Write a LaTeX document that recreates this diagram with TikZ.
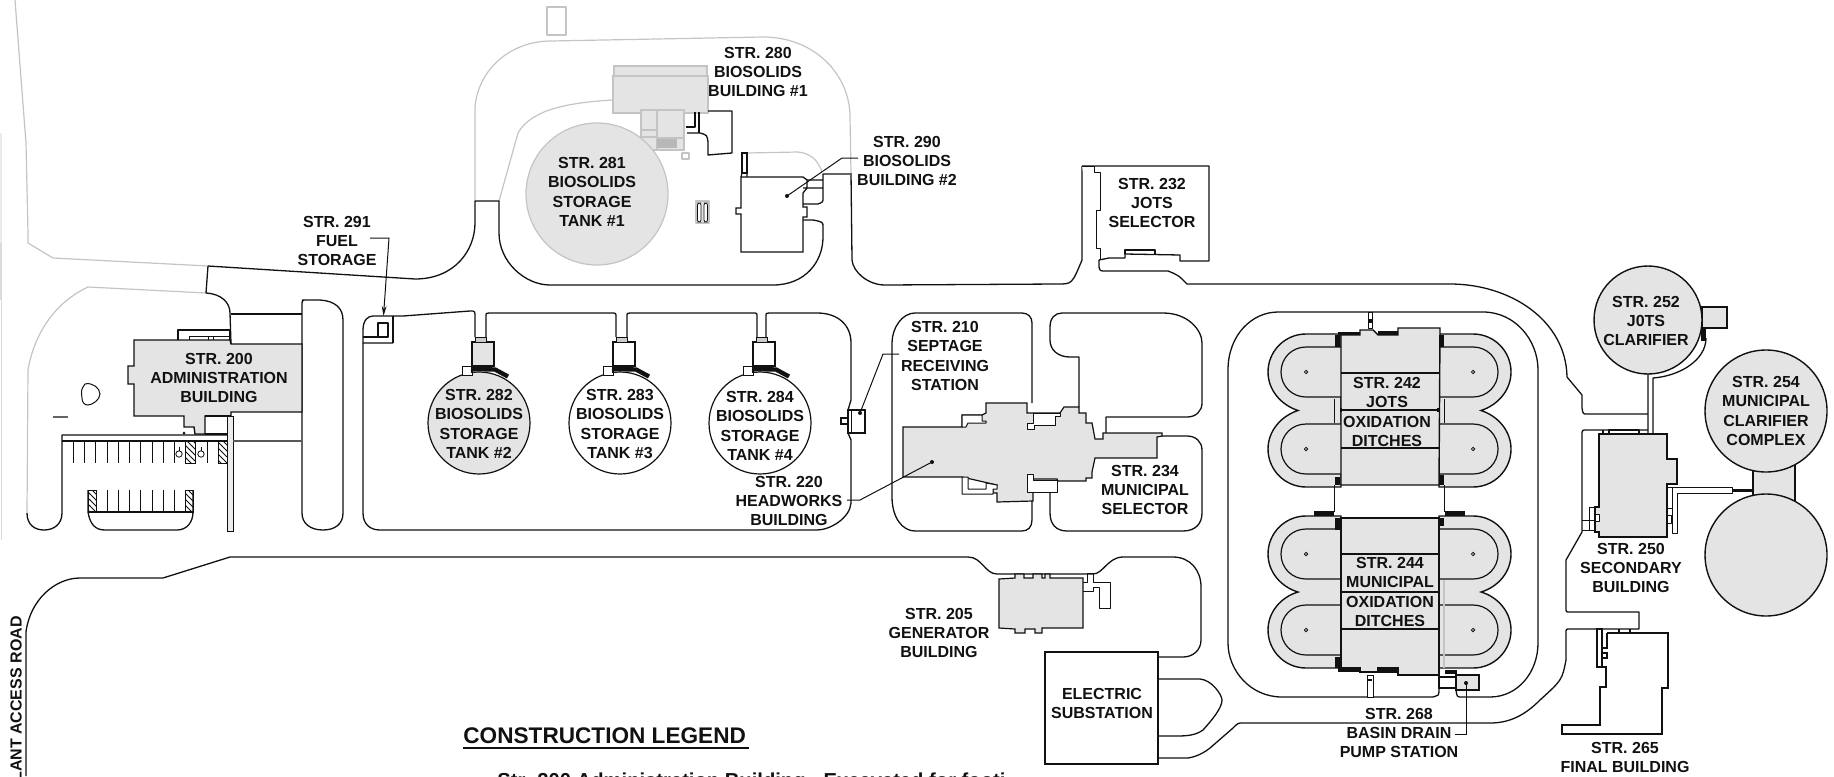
\documentclass[tikz,border=0pt]{standalone}
\usepackage{fontspec}
\setmainfont{Liberation Sans}
\usetikzlibrary{patterns,arrows.meta}
\definecolor{bld}{HTML}{E4E4E4}
\definecolor{pale}{HTML}{C4C4C4}
\definecolor{ink}{HTML}{111111}
\tikzset{
  road/.style={draw=ink,line width=0.65pt,line join=round},
  paleroad/.style={draw=pale,line width=0.6pt,line join=round},
  thin line/.style={draw=ink,line width=0.5pt},
  building/.style={draw=ink,line width=0.7pt,fill=bld,line join=miter},
  plainbuilding/.style={draw=ink,line width=0.7pt,fill=white},
  palebuilding/.style={draw=pale,line width=0.7pt,fill=bld},
  heavy/.style={fill=ink,draw=none},
  lbl/.style={font=\bfseries\fontsize{8}{9.65}\selectfont,align=center,inner sep=0pt,text=ink},
  leaderline/.style={draw=ink,line width=0.5pt},
  hatchbox/.style={draw=ink,line width=0.4pt,pattern=north west lines,pattern color=ink},
  leaderdot/.style={fill=ink,draw=none},
}
\newcommand{\lobeouter}[5]{% c, s, edge, y1, y2
  \path[building] (#3,{#4-38}) -- (#1,{#4-38})
   .. controls ({#1+#2*21},{#4-38}) and ({#1+#2*38},{#4-21}) .. ({#1+#2*38},#4)
   .. controls ({#1+#2*38},{#4+18}) and ({#1+#2*25},{#4+33}) .. ({#1+#2*8},{(#4+#5)/2})
   .. controls ({#1+#2*25},{#5-33}) and ({#1+#2*38},{#5-18}) .. ({#1+#2*38},#5)
   .. controls ({#1+#2*38},{#5+21}) and ({#1+#2*21},{#5+38}) .. (#1,{#5+38})
   -- (#3,{#5+38}) -- cycle;
  \foreach \yy in {#4,#5}{
   \path[building,line width=0.6pt] (#3,{\yy-25}) -- (#1,{\yy-25})
     .. controls ({#1+#2*14},{\yy-25}) and ({#1+#2*25},{\yy-14}) .. ({#1+#2*25},\yy)
     .. controls ({#1+#2*25},{\yy+14}) and ({#1+#2*14},{\yy+25}) .. (#1,{\yy+25})
     -- (#3,{\yy+25});
   \draw[ink,line width=0.4pt] (#1,\yy) circle[radius=1.7];
  }
}
\begin{document}
\begin{tikzpicture}[x=0.5pt,y=-0.5pt]
\useasboundingbox (0,0) rectangle (1834,776);
\clip (0,0) rectangle (1834,776);

% faint marks at the left edge
\fill[black!8] (0,133) rectangle (2,300);
\fill[black!14] (0,243) rectangle (2,300);
\draw[black!15,line width=0.4pt] (1,300) -- (1,540);

% ---------- pale roads ----------
\path[paleroad] (15,0) -- (26,143) -- (28,233) -- (28,243) -- (53,258) -- (208,266);
\path[paleroad] (206,293) -- (88,287) .. controls (50,305) and (33,340) .. (28,370) -- (27,513);
\path[paleroad] (475,201) -- (475,107) .. controls (478,70) and (510,41) .. (551,41) -- (763,37)
   .. controls (815,37) and (850,75) .. (850,117) -- (851,173);
\path[paleroad] (499,201) -- (518,133) .. controls (530,112) and (560,103) .. (613,100);
\path[paleroad] (747,153) -- (798,152) .. controls (810,153) and (818,160) .. (822,172);
\path[paleroad,fill=white] (547,7) rectangle (566,35);

% ---------- black roads ----------
\path[road] (208,266) -- (415,279) .. controls (455,279) and (475,250) .. (475,223) -- (475,201)
   -- (499,201) -- (499,233) .. controls (499,262) and (525,285) .. (550,285) -- (773,285)
   .. controls (805,285) and (823,262) .. (823,237) -- (823,227) .. controls (823,222) .. (813,220) -- (803,220);
\path[road] (851,173) -- (852,260) .. controls (853,272) and (868,285) .. (885,285) -- (1058,284)
   .. controls (1072,284) .. (1082,260) -- (1082,166);
\path[road] (1099,267) .. controls (1100,271) .. (1106,271) -- (1168,271) .. controls (1178,275) .. (1187,284)
   -- (1450,284) .. controls (1510,284) and (1566,320) .. (1567,377) -- (1582,395) -- (1582,408)
   .. controls (1583,414) .. (1587,414) -- (1648,414);
\path[road] (1648,430) -- (1587,430) .. controls (1582,430) .. (1582,435) -- (1582,532) -- (1566,560) -- (1566,608)
   .. controls (1566,612) .. (1570,612) -- (1639,612) -- (1639,629) -- (1570,629)
   .. controls (1566,629) .. (1566,633) -- (1566,660) .. controls (1562,680) .. (1540,700)
   .. controls (1525,715) and (1510,723) .. (1490,723) -- (1243,723) .. controls (1238,723) .. (1233,728)
   -- (1210,748) .. controls (1200,756) and (1190,758) .. (1187,758) -- (1158,758);
% plant entry road
\path[road] (26,776) -- (26,632) .. controls (30,600) and (55,578) .. (80,578) -- (163,578) -- (230,557) -- (968,557)
   .. controls (982,557) and (985,574) .. (997,574) -- (1093,574) .. controls (1103,574) and (1108,557) .. (1123,557)
   -- (1173,557) .. controls (1190,557) and (1201,570) .. (1201,587) -- (1201,640)
   .. controls (1201,650) and (1193,657) .. (1183,657) -- (1158,657);
\path[road] (1158,679) -- (1200,679) .. controls (1212,680) and (1222,695) .. (1222,700)
   .. controls (1222,708) and (1212,720) .. (1203,730) .. controls (1196,735) and (1188,736) .. (1177,736) -- (1158,736);
% administration drives
\path[road] (206,293) -- (208,266);
\path[road] (206,293) .. controls (222,294) and (230,303) .. (230,313) -- (231,344);
\draw[ink,line width=0.9pt] (231,314) -- (302,314);
\path[road] (27,513) .. controls (27,525) and (35,530) .. (44,530) .. controls (54,530) and (62,524) .. (62,513) -- (62,435) -- (230,435);
\draw[ink,line width=0.95pt] (62,441) -- (230,441);
\path[road] (302,300) -- (320,300) .. controls (335,301) and (343,308) .. (343,320) -- (343,513)
   .. controls (343,524) and (335,530) .. (323,530) .. controls (311,530) and (302,524) .. (302,513) -- (302,304) .. controls (302,301) .. (304,300);
% tanks island
\path[road] (393,343) -- (363,343) -- (363,330) .. controls (363,320) and (368,316) .. (373,316) -- (403,316) -- (470,311)
   .. controls (475,311) .. (475,317) -- (475,337);
\path[road] (486,337) -- (486,317) .. controls (486,313) .. (489,313) -- (611,313) .. controls (616,313) .. (616,317) -- (616,337);
\path[road] (627,337) -- (627,317) .. controls (627,313) .. (630,313) -- (753,313) .. controls (757,313) .. (757,317) -- (757,337);
\path[road] (766,337) -- (766,317) .. controls (766,313) .. (769,313) -- (817,313) .. controls (838,313) and (851,325) .. (851,343)
   -- (851,400) -- (848,410) -- (848,433) -- (851,440) -- (851,503) .. controls (850,518) and (830,530) .. (817,530)
   -- (380,530) .. controls (370,530) and (363,524) .. (363,513) -- (363,343);
\path[road] (393,316) -- (393,343);
\path[road,line width=0.6pt] (378,323) rectangle (388,337);
\path[road] (363,337) -- (388,337);
% septage island
\path[road] (1032,403) -- (1032,323) .. controls (1032,317) and (1028,313) .. (1022,313) -- (915,313)
   .. controls (902,313) and (892,328) .. (892,343) -- (892,497) .. controls (892,517) and (902,531) .. (915,531)
   -- (1022,531) .. controls (1028,531) and (1032,527) .. (1032,520) -- (1032,501);
\path[road] (1079,407) -- (1079,357) -- (1070,357) .. controls (1058,357) and (1050,350) .. (1050,340) -- (1050,327)
   .. controls (1050,318) and (1055,313) .. (1062,313) -- (1163,313) .. controls (1188,313) and (1202,330) .. (1202,343) -- (1202,403)
   .. controls (1202,411) and (1196,417) .. (1187,417) -- (1106,417) -- (1106,433);
\path[road] (1162,436) -- (1187,436) .. controls (1196,436) and (1202,442) .. (1202,450) -- (1202,513)
   .. controls (1202,524) and (1195,531) .. (1183,531) -- (1067,531) .. controls (1056,531) and (1050,524) .. (1050,513) -- (1050,492);
% ditch ring
\path[road] (1439,677) -- (1439,692) .. controls (1439,695) .. (1433,697) -- (1282,697) .. controls (1250,697) and (1228,670) .. (1228,643)
   -- (1228,370) .. controls (1228,335) and (1252,312) .. (1278,312) -- (1483,312) .. controls (1515,312) and (1538,340) .. (1538,370)
   -- (1538,643) .. controls (1538,672) and (1518,697) .. (1490,697) -- (1462,697) .. controls (1457,697) .. (1456,690);

% ---------- administration building ----------
\path[road,fill=white] (178,340) -- (178,330) -- (230,330) -- (230,340);
\path[road,line width=0.5pt] (189,340) -- (189,336) -- (230,336) (208,336) -- (208,340) (213,336) -- (213,340);
\path[building] (134,340) -- (230,340) -- (231,344) -- (302,344) -- (302,412) -- (231,412) -- (231,416) -- (205,416) -- (205,434)
  -- (195,434) -- (194,427) -- (184,427) -- (184,416) -- (134,416) -- (134,384) -- (128,384) -- (128,366) -- (134,366) -- cycle;
\path[road] (205,416) -- (231,416) (205,434) -- (230,434);
\fill[ink] (184,433) circle[radius=1.5];
\draw[ink,line width=0.5pt,fill=black!8] (227,416) rectangle (233,531);
\draw[ink!70,line width=0.8pt] (233,441) -- (302,441);
\foreach \xx in {73,84,95,107,118,129,140,152,163,174,207}{\draw[ink,line width=0.45pt] (\xx,441) -- (\xx,463);}
\path[hatchbox] (185,441) rectangle (195,463);
\path[hatchbox] (218,441) rectangle (227,463);
\foreach \xx in {179,201}{\draw[ink,line width=0.4pt] (\xx,454) circle[radius=3.2]; \draw[ink,line width=0.4pt] (\xx,451) -- (\xx,447);}
\foreach \xx in {107,118,129,140,152,163,174}{\draw[ink,line width=0.45pt] (\xx,490) -- (\xx,512);}
\path[hatchbox] (88,490) rectangle (96,512);
\path[hatchbox] (185,490) rectangle (193,512);
\path[road] (88,490) -- (88,512) .. controls (90,524) and (95,530) .. (105,530) -- (177,530) .. controls (187,530) and (193,522) .. (193,512) -- (193,490);
\path[road] (88,512) -- (193,512);
\draw[ink,line width=0.5pt] (82,398) .. controls (81,390) .. (85,384) .. controls (92,382) and (100,388) .. (100,394)
   .. controls (100,400) and (92,405) .. (88,405) .. controls (84,405) and (82,402) .. (82,398);
\draw[ink!65,line width=1.4pt] (53,417) -- (68,417);

% ---------- biosolids 280 / 281 / 290 ----------
\path[palebuilding,line width=0.6pt] (614,66) rectangle (707,76);
\path[palebuilding] (613,76) rectangle (708,113);
\path[palebuilding] (641,110) rectangle (684,150);
\path[draw=pale,line width=0.6pt] (657,111) -- (657,150) (641,130) -- (657,130) (641,137) -- (657,137) (657,138) -- (684,138);
\fill[black!28] (657,139) rectangle (677,148);
\path[paleroad,fill=white] (682,153) rectangle (689,159);
\fill[bld] (597,194) circle[radius=71];
\draw[pale,line width=0.6pt] (597,194) circle[radius=71];
\path[paleroad,fill=bld] (696,201) rectangle (709,223);
\draw[ink,line width=0.4pt,fill=white,rounded corners=1pt] (697.5,203) rectangle (701,222);
\draw[ink,line width=0.4pt,fill=white,rounded corners=1pt] (704,203) rectangle (707.5,222);
\path[road] (708,111) -- (732,111) -- (732,153) -- (708,155) -- (708,142) .. controls (707,135) .. (700,133) -- (687,133);
\path[road] (699,112) -- (699,133) (695,112) -- (695,127) -- (686,127);
\path[plainbuilding,line width=0.65pt] (741,177) -- (803,177) -- (807,180) -- (807,188) -- (803,193) -- (803,207) -- (807,207) -- (807,217) -- (803,217)
   -- (803,252) -- (741,252) -- (741,214) -- (736,214) -- (736,208) -- (741,208) -- cycle;
\draw[ink,line width=0.65pt,fill=white] (742,153) rectangle (747,173);
\draw[ink,line width=0.6pt] (742,173) -- (741,177) (747,173) -- (747,177);
\path[road] (807,180) -- (823,180) (803,188) -- (823,188) (850,174) -- (823,174) -- (823,198) .. controls (823,202) .. (818,204) -- (803,204);

% ---------- biosolids tanks ----------
\foreach \cx/\tf in {479/bld,620/white,760/white}{
  \draw[ink,line width=0.6pt,fill=\tf] (\cx,423) circle[radius=51];
  \draw[ink,line width=0.5pt,fill=white] ({\cx-17},366) rectangle ({\cx-7},375);
  \draw[ink,line width=1.2pt,fill=\tf] ({\cx-7},342) rectangle ({\cx+15},366);
  \draw[ink,line width=0.4pt,fill=black!20] ({\cx-4},337) rectangle ({\cx+7},342);
  \draw[ink,line width=2.2pt] ({\cx-8},369) -- ({\cx+16},369.5) -- ({\cx+29},376.5);
  \draw[ink,line width=0.4pt,fill=white] ({\cx-8},366) -- ({\cx-8},372) -- ({\cx-7},372);
}
% septage
\path[plainbuilding,line width=0.55pt] (848,410) rectangle (865,433);
\path[plainbuilding,line width=0.55pt] (841,418) rectangle (848,424);
\draw[ink,line width=0.4pt] (851,410) -- (851,433);

% ---------- headworks ----------
\path[building,line width=0.6pt] (903,427) -- (962,427) -- (962,415) -- (982,415) -- (986,413) -- (986,403) -- (1027,403) -- (1027,413) -- (1060,413)
  -- (1064,407) -- (1079,407) -- (1079,413) -- (1086,413) -- (1086,423) -- (1092,423) -- (1095,439) -- (1103,439) -- (1103,433)
  -- (1162,433) -- (1162,436) -- (1157,437) -- (1157,458) -- (1095,458) -- (1092,472) -- (1092,478) -- (1086,478) -- (1086,481)
  -- (1058,481) -- (1057,479) -- (1033,479) -- (1033,501) -- (997,502) -- (997,493) -- (993,493) -- (993,489) -- (997,485) -- (962,477)
  -- (903,477) -- cycle;
\path[road,fill=white,line width=0.5pt] (1033,413) -- (1060,413) -- (1060,416) -- (1055,416) -- (1055,425) -- (1034,425) -- (1034,429) -- (1027,429) -- (1027,423) -- (1033,423) -- cycle;
\path[road,fill=white,line width=0.5pt] (1027,474) -- (1033,474) -- (1033,480) -- (1057,480) -- (1057,492) -- (1027,492) -- cycle;
\path[road,fill=white,line width=0.5pt] (962,477) -- (962,494) -- (993,494) -- (993,489) -- (997,489) -- (997,485) -- (986,483) -- (986,489) -- (968,489) -- (968,477) -- cycle;
\path[road,fill=white,line width=0.5pt] (962,415) -- (982,415) -- (982,421) -- (986,421) -- (986,423) -- (968,423) -- (966,427) -- (962,427) -- cycle;

% ---------- generator ----------
\path[building,line width=0.6pt] (999,579) -- (1015,578) -- (1015,574) -- (1024,574) -- (1024,578) -- (1033,578) -- (1033,574) -- (1042,574) -- (1042,578)
  -- (1045,578) -- (1045,574) -- (1050,574) -- (1050,578) -- (1083,578) -- (1083,628) -- (1042,628) -- (1042,633) -- (1035,633) -- (1035,629)
  -- (1025,629) -- (1025,633) -- (1015,633) -- (1015,629) -- (999,628) -- cycle;
\path[road,line width=0.5pt] (1083,582) -- (1087,582) -- (1087,573) -- (1093,573) -- (1093,582) -- (1110,582) -- (1110,608) -- (1099,608) -- (1099,587) -- (1093,587) -- (1093,591) -- (1083,591);

% ---------- ditches ----------
\foreach \yt/\yb in {372/449, 554/630}{
  \lobeouter{1306}{-1}{1341}{\yt}{\yb}
  \lobeouter{1473}{1}{1439}{\yt}{\yb}
}
\path[building] (1341,335) -- (1360,335) -- (1360,330) -- (1368,330) -- (1373,330) -- (1378,335) -- (1398,335) -- (1398,328) -- (1440,328) -- (1439,485) -- (1341,485) -- cycle;
\path[building] (1341,518) -- (1439,518) -- (1439,675) -- (1398,675) -- (1398,668) -- (1378,668) -- (1378,672) -- (1360,672) -- (1360,668) -- (1341,668) -- cycle;
\draw[ink,line width=0.7pt] (1341,373) -- (1439,373) (1341,448) -- (1439,448);
\draw[ink,line width=1.1pt] (1341,410) -- (1439,410);
\draw[ink,line width=0.9pt] (1341,554) -- (1439,554) (1341,629) -- (1439,629) (1341,592) -- (1439,592);
\draw[road,fill=white,line width=0.5pt] (1368,312) rectangle (1372,328);
\draw[road,fill=white,line width=0.5pt] (1367,675) rectangle (1373,697);
\path[heavy] (1368,319) rectangle (1372,323);
\path[heavy] (1368,679) rectangle (1372,681);
\path[heavy] (1338,332) rectangle (1360,335);
\path[heavy] (1378,330.5) rectangle (1398,335);
\path[heavy] (1338,668) rectangle (1360,672);
\path[heavy] (1378,668) rectangle (1398,673);
\path[heavy] (1335,335) rectangle (1340,347);
\path[heavy] (1439,335) rectangle (1444,347);
\path[heavy] (1335,477) rectangle (1340,485);
\path[heavy] (1439,475) rectangle (1444,485);
\path[heavy] (1335,518) rectangle (1340,530);
\path[heavy] (1439,518) rectangle (1444,526);
\path[heavy] (1335,657) rectangle (1340,668);
\path[heavy] (1314,511) rectangle (1334,516);
\path[heavy] (1445,511) rectangle (1465,516);
\path[heavy] (1340,408) rectangle (1342,412);
\path[heavy] (1437,408) rectangle (1439,412);
\draw[ink,line width=0.5pt] (1334,399) -- (1334,423) (1444,399) -- (1444,423) (1334,485) -- (1334,512) (1444,485) -- (1444,512);
\draw[pale,line width=0.6pt] (1444,580) -- (1444,668);
% pump station
\path[plainbuilding,line width=0.6pt] (1439,677) rectangle (1456,688);
\path[building,line width=0.6pt] (1456,675) rectangle (1479,690);
\path[heavy] (1445,670) rectangle (1457,674);

% ---------- STR 232 ----------
\path[road,fill=white] (1082,166) -- (1209,166) -- (1209,261) -- (1180,261) -- (1180,255) -- (1125,254) -- (1125,258) -- (1109,258) -- (1099,260) -- (1099,267);
\path[road,line width=0.5pt] (1082,166) -- (1094,166) -- (1094,172) -- (1100,172) -- (1100,210) -- (1096,210) -- (1096,248) -- (1100,248) -- (1100,260);
\path[road,line width=1pt] (1125,254) -- (1125,250) -- (1155,250) -- (1155,254);

% ---------- secondary + clarifiers ----------
\fill[bld] (1753,465) rectangle (1795,505);
\draw[ink,line width=0.6pt] (1753,465) -- (1753,505) (1795,460) -- (1795,505);
\draw[ink,line width=0.7pt,fill=bld] (1766,411) circle[radius=61];
\draw[ink,line width=0.7pt,fill=bld] (1766,555) circle[radius=61];
\path[building] (1702,307) rectangle (1727,328);
\draw[ink,line width=0.7pt,fill=bld] (1648,320) circle[radius=54];
\path[road] (1648,374) -- (1648,434) (1653,433) -- (1653,378) .. controls (1680,376) and (1706,360) .. (1706,338);
\path[heavy] (1701,329) rectangle (1706,341);
\path[road] (1603,430) -- (1603,434) (1609,434) -- (1609,430) -- (1639,430) -- (1639,434);
\path[building,line width=0.6pt] (1599,434) -- (1667,434) -- (1667,459) -- (1677,459) -- (1677,484) -- (1667,484) -- (1667,537) -- (1599,537) -- (1599,532) -- (1595,532) -- (1595,507) -- (1599,507) -- cycle;
\path[road,line width=0.5pt] (1667,487) -- (1732,487) -- (1732,493) -- (1677,493) -- (1677,533) -- (1672,533) -- (1672,487);
\path[road,line width=0.5pt] (1667,508) -- (1672,508) (1667,515) -- (1671,515) -- (1671,523) -- (1667,523);
\path[heavy] (1732,488.5) rectangle (1753,491.5);
\path[road,line width=0.5pt] (1589,507) -- (1589,520) -- (1582,520) (1589,507) -- (1595,507) (1582,530) -- (1595,530) (1595,520) -- (1589,520) (1589,520) -- (1589,530);
\path[road,line width=0.5pt,fill=white] (1595,514) rectangle (1599,521);
% final building
\path[plainbuilding,line width=0.6pt] (1639,633) -- (1668,633) -- (1668,688) -- (1662,688) -- (1662,734) -- (1562,734) -- (1562,725) -- (1600,725) -- (1600,687) -- (1606,687)
  -- (1606,667) -- (1597,667) -- (1597,629) -- (1602,629) -- (1602,667) (1607,633) -- (1607,648) -- (1602,648) (1602,653) -- (1607,653) -- (1607,658) -- (1602,658) (1607,633) -- (1639,633);
\path[road,line width=0.55pt] (1619,629) -- (1619,633) -- (1630,633) -- (1630,629);

% substation
\node[draw=ink,line width=0.7pt,fill=white,minimum width=56.5pt,minimum height=56pt,inner sep=0pt] (sub) at (1101.5,708) {};
\node[lbl] (lsub) at (1102,703.5) {ELECTRIC\\SUBSTATION};

% ---------- labels ----------
\node[lbl] (l280) at (758,72) {STR. 280\\BIOSOLIDS\\BUILDING \#1};
\node[lbl] (l281) at (592,192) {STR. 281\\BIOSOLIDS\\STORAGE\\TANK \#1};
\node[lbl] (l290) at (907,161) {STR. 290\\BIOSOLIDS\\BUILDING \#2};
\node[lbl] (l291) at (337,241) {STR. 291\\FUEL\\STORAGE};
\node[lbl] (l200) at (219,378) {STR. 200\\ADMINISTRATION\\BUILDING};
\node[lbl] (l282) at (479,424) {STR. 282\\BIOSOLIDS\\STORAGE\\TANK \#2};
\node[lbl] (l283) at (620,424) {STR. 283\\BIOSOLIDS\\STORAGE\\TANK \#3};
\node[lbl] (l284) at (760,426) {STR. 284\\BIOSOLIDS\\STORAGE\\TANK \#4};
\node[lbl] (l220) at (789,501) {STR. 220\\HEADWORKS\\BUILDING};
\node[lbl] (l210) at (945,356) {STR. 210\\SEPTAGE\\RECEIVING\\STATION};
\node[lbl] (l234) at (1145,490) {STR. 234\\MUNICIPAL\\SELECTOR};
\node[lbl] (l232) at (1152,203) {STR. 232\\JOTS\\SELECTOR};
\node[lbl] (l242) at (1387,412) {STR. 242\\JOTS\\OXIDATION\\DITCHES};
\node[lbl] (l244) at (1390,592) {STR. 244\\MUNICIPAL\\OXIDATION\\DITCHES};
\node[lbl] (l268) at (1399,733) {STR. 268\\BASIN DRAIN\\PUMP STATION};
\node[lbl] (l205) at (939,633) {STR. 205\\GENERATOR\\BUILDING};
\node[lbl] (l252) at (1646,321) {STR. 252\\J0TS\\CLARIFIER};
\node[lbl] (l254) at (1766,411) {STR. 254\\MUNICIPAL\\CLARIFIER\\COMPLEX};
\node[lbl] (l250) at (1631,568) {STR. 250\\SECONDARY\\BUILDING};
\node[lbl,anchor=north] (l265) at (1625,742) {STR. 265\\FINAL BUILDING};
\node[lbl,rotate=90,anchor=east] (lroad) at (16,616) {PLANT ACCESS ROAD};
\node[font=\bfseries\fontsize{11.3}{13}\selectfont,anchor=base west,inner sep=0pt,text=ink] (llegend) at (463,743) {CONSTRUCTION LEGEND};
\draw[ink,line width=0.7pt] (463,748) -- (749,748);
\node[font=\bfseries\fontsize{10.1}{12}\selectfont,anchor=base west,inner sep=0pt,text=ink] (lstr) at (497,787) {Str. 200 Administration Building - Excavated for footi};

% ---------- leaders ----------
\coordinate (d291) at (383.5,316);
\coordinate (c291) at (389,238);
\coordinate (s291) at (370,238);
\draw[leaderline,-{Stealth[length=5pt,width=2.4pt]}] (s291) -- (c291) -- (d291);
\coordinate (d290) at (787,196);
\coordinate (c290) at (842,158);
\coordinate (s290) at (858,158);
\draw[leaderline] (s290) -- (c290) -- (d290);
\fill[leaderdot] (d290) circle[radius=2];
\coordinate (d210) at (860,413);
\coordinate (c210) at (883,354);
\coordinate (s210) at (899,354);
\draw[leaderline] (s210) -- (c210) -- (d210);
\fill[leaderdot] (d210) circle[radius=2];
\coordinate (d220) at (932,462);
\coordinate (c220) at (860,500);
\coordinate (s220) at (847,500);
\draw[leaderline] (s220) -- (c220) -- (d220);
\fill[leaderdot] (d220) circle[radius=2];
\coordinate (d268) at (1466,683);
\coordinate (c268) at (1466,734);
\coordinate (s268) at (1455,734);
\draw[leaderline] (s268) -- (c268) -- (d268);
\fill[leaderdot] (d268) circle[radius=2];
\end{tikzpicture}
\end{document}
